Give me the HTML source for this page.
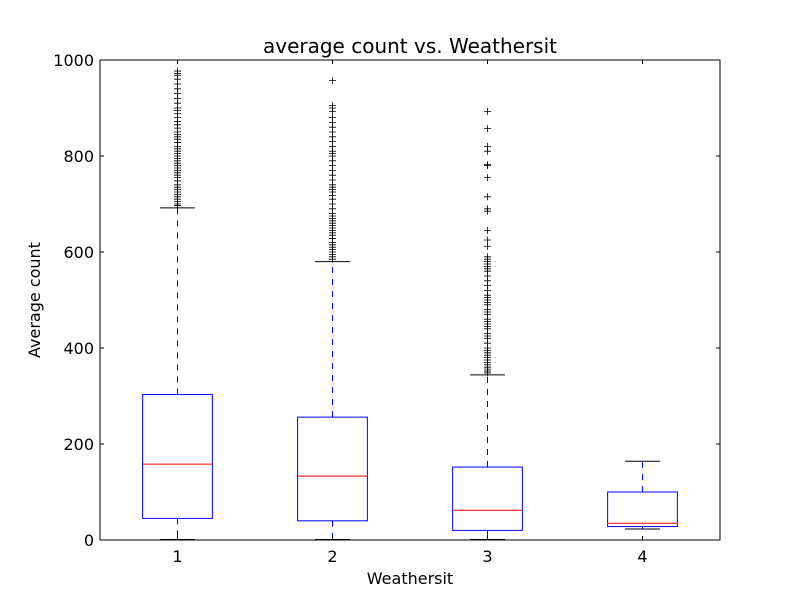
<!DOCTYPE html>
<html><head><meta charset="utf-8"><style>
body{margin:0;background:#fff;}
svg text{font-family:"DejaVu Sans","Liberation Sans",sans-serif;}
</style></head><body>
<svg id="chart" width="800" height="600" xmlns="http://www.w3.org/2000/svg"></svg>
<script>
const categories=["1","2","3","4"];
const q1=[45,40,20,28];
const medians=[158,133,62,35];
const q3=[303,256,152,100];
const whiskLow=[1,1,1,23];
const whiskHigh=[692,580,344,164];
const fliers1=[697,700,705,710,715,720,725,730,735,740,748,755,760,765,770,775,780,785,790,795,800,805,810,815,820,828,835,840,845,850,858,865,872,880,888,895,900,910,920,930,940,950,960,968,972,977];
const fliers2=[585,590,595,600,605,610,615,620,628,635,640,645,650,655,660,665,670,675,680,690,700,710,718,725,730,735,740,750,760,770,780,790,800,805,810,820,830,840,850,860,870,880,893,900,905,957];
const fliers3=[348,352,356,360,365,370,375,380,385,390,395,400,410,420,425,430,440,445,450,455,460,470,475,480,490,495,500,505,510,520,530,540,550,560,565,570,575,580,585,590,612,625,645,685,690,715,755,780,782,810,820,857,893];
const fliers4=[];
const fliers=[fliers1,fliers2,fliers3,fliers4];
const yTicks=[0,200,400,600,800,1000];

const L=100,R=720,T=60,B=540;
const x=v=>L+(v-0.5)/4*(R-L);
const y=v=>B-v/1000*(B-T);
const svg=document.getElementById('chart');
const NS="http://www.w3.org/2000/svg";
function mk(tag,attrs,parent){const e=document.createElementNS(NS,tag);for(const k in attrs)e.setAttribute(k,attrs[k]);(parent||svg).appendChild(e);return e;}

const hw=0.225*(R-L)/4, cw=hw/2;
categories.forEach((c,i)=>{
  const cx=Math.floor(x(i+1))+0.5;
  const g=mk('g',{});
  
  
  const w1=mk('line',{x1:cx,x2:cx,y1:y(q3[i]),y2:y(whiskHigh[i]),stroke:'#0000ff','stroke-dasharray':'6,6'},g);
  
  
  const w2=mk('line',{x1:cx,x2:cx,y1:y(q1[i]),y2:y(whiskLow[i]),stroke:'#0000ff','stroke-dasharray':'6,6'},g);
  
  
  const c1=mk('line',{x1:cx-cw,x2:cx+cw,y1:y(whiskHigh[i]),y2:y(whiskHigh[i]),stroke:'#000'},g);
  
  
  const c2=mk('line',{x1:cx-cw,x2:cx+cw,y1:y(whiskLow[i]),y2:y(whiskLow[i]),stroke:'#000'},g);
  
  
  const b=mk('rect',{x:cx-hw,y:y(q3[i]),width:2*hw,height:y(q1[i])-y(q3[i]),fill:'none',stroke:'#0000ff'},g);
  
  
  const m=mk('line',{x1:cx-hw,x2:cx+hw,y1:y(medians[i]),y2:y(medians[i]),stroke:'#ff0000'},g);
  
  
  fliers[i].forEach(v=>{
    const p=mk('path',{d:`M${cx-3.5},${y(v)}h7M${cx},${y(v)-3.5}v7`,stroke:'#000','stroke-width':0.8},g);
    
    
  });
  const tb=mk('line',{x1:cx,x2:cx,y1:B,y2:B-4,stroke:'#000'});
  
  
  const tt=mk('line',{x1:cx,x2:cx,y1:T,y2:T+4,stroke:'#000'});
  
  
  const lbl=mk('text',{x:cx,y:B+22,'text-anchor':'middle','font-size':16});
  lbl.textContent=c;
  
  
});
yTicks.forEach(v=>{
  const a=mk('line',{x1:L,x2:L+4,y1:y(v),y2:y(v),stroke:'#000'});
  
  
  const b=mk('line',{x1:R,x2:R-4,y1:y(v),y2:y(v),stroke:'#000'});
  
  
  const t=mk('text',{x:L-6,y:y(v)+6,'text-anchor':'end','font-size':16});
  t.textContent=v;
  
  
});
const frame=mk('rect',{x:L,y:T,width:R-L,height:B-T,fill:'none',stroke:'#000'});


const title=mk('text',{x:(L+R)/2,y:53,'text-anchor':'middle','font-size':20});
title.textContent='average count vs. Weathersit';


const xt=mk('text',{x:(L+R)/2,y:584,'text-anchor':'middle','font-size':16});
xt.textContent='Weathersit';


const yt=mk('text',{x:40,y:(T+B)/2,'text-anchor':'middle','font-size':16,transform:`rotate(-90 40 ${(T+B)/2})`});
yt.textContent='Average count';


</script>
</body></html>
